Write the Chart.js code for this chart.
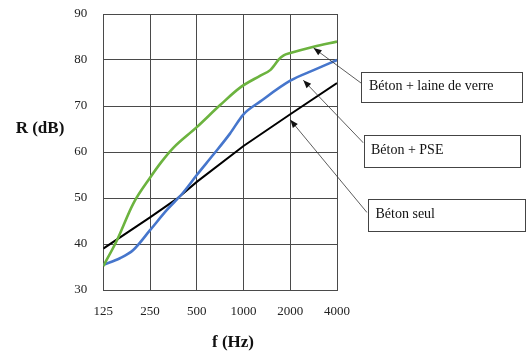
<!DOCTYPE html>
<html><head><meta charset="utf-8">
<script src="https://cdn.jsdelivr.net/npm/chart.js@4/dist/chart.umd.min.js"></script>
<style>html,body{margin:0;padding:0;background:#fff;}#wrap{width:528px;height:363px;position:relative;}</style>
</head><body><div id="wrap"><canvas id="c" width="528" height="363"></canvas></div>
<script>
// Frequencies (Hz) of the axis ticks
const tickFreqs = [125, 250, 500, 1000, 2000, 4000];
const yTicks = [30, 40, 50, 60, 70, 80, 90];

// Béton + laine de verre
const laineFreq = [125, 152, 195, 250, 297, 353, 500, 707, 950, 1284, 1485, 1559, 1682, 1815, 2000, 2828, 4000];
const laineR    = [35.2, 40.6, 48.8, 54.4, 57.9, 60.9, 65.4, 70.2, 74.0, 76.6, 77.8, 78.6, 80.1, 81.0, 81.5, 82.9, 84.0];

// Béton + PSE
const pseFreq = [125, 160, 195, 250, 321, 409, 500, 642, 818, 1000, 1284, 2000, 2828, 4000];
const pseR    = [35.5, 36.9, 38.7, 43.0, 47.4, 51.2, 55.0, 59.5, 64.0, 68.2, 71.0, 75.5, 77.8, 80.0];

// Béton seul
const seulFreq = [125, 250, 371, 500, 1000, 2000, 4000];
const seulR    = [39.0, 45.8, 49.8, 53.5, 61.3, 68.2, 75.0];

// Annotation labels and the (f, R) points their arrows point to
const noteLabels = ['Béton + laine de verre', 'Béton + PSE', 'Béton seul'];
const noteTargetF = [2828, 2427, 2000];
const noteTargetR = [82.6, 75.6, 67.0];

const pts = (xs, ys) => xs.map((x, i) => ({x: x, y: ys[i]}));

const annot = {
  id: 'annot',
  afterDraw(chart) {
    const ctx = chart.ctx;
    const xs = chart.scales.x, ys = chart.scales.y;
    const boxes = [
      {x: 361, y: 71.5, w: 161, h: 30, tx: 369, ty: 86.5, sx: 361, sy: 83},
      {x: 363.5, y: 135, w: 156, h: 31.5, tx: 371, ty: 150, sx: 363.5, sy: 143},
      {x: 367.5, y: 198.5, w: 156.5, h: 32, tx: 375.5, ty: 214.5, sx: 367, sy: 212.5}
    ];
    ctx.save();
    boxes.forEach((b, i) => {
      const tx = xs.getPixelForValue(noteTargetF[i]);
      const ty = ys.getPixelForValue(noteTargetR[i]);
      ctx.strokeStyle = '#333';
      ctx.lineWidth = 0.8;
      ctx.beginPath();
      ctx.moveTo(b.sx, b.sy);
      ctx.lineTo(tx, ty);
      ctx.stroke();
      const ang = Math.atan2(ty - b.sy, tx - b.sx);
      const L = 8, W = 3.2;
      ctx.fillStyle = '#111';
      ctx.beginPath();
      ctx.moveTo(tx, ty);
      ctx.lineTo(tx - L * Math.cos(ang) + W * Math.sin(ang), ty - L * Math.sin(ang) - W * Math.cos(ang));
      ctx.lineTo(tx - L * Math.cos(ang) - W * Math.sin(ang), ty - L * Math.sin(ang) + W * Math.cos(ang));
      ctx.closePath();
      ctx.fill();
      ctx.fillStyle = '#fff';
      ctx.fillRect(b.x, b.y, b.w, b.h);
      ctx.strokeStyle = '#444';
      ctx.lineWidth = 1;
      ctx.strokeRect(Math.round(b.x) + 0.5, Math.round(b.y) + 0.5, Math.round(b.w), Math.round(b.h));
      ctx.fillStyle = '#111';
      ctx.font = '14px "Liberation Serif", serif';
      ctx.textBaseline = 'middle';
      ctx.textAlign = 'left';
      ctx.fillText(noteLabels[i], b.tx, b.ty);
    });
    ctx.fillStyle = '#111';
    ctx.font = 'bold 17px "Liberation Serif", serif';
    ctx.textAlign = 'center';
    ctx.textBaseline = 'middle';
    ctx.fillText('R (dB)', 40, 129);
    ctx.fillText('f (Hz)', 233, 343);
    ctx.restore();
  }
};

new Chart(document.getElementById('c'), {
  type: 'line',
  data: {
    datasets: [
      {label: 'Béton + laine de verre', data: pts(laineFreq, laineR), borderColor: '#6cb33f', borderWidth: 2.6, cubicInterpolationMode: 'monotone', pointRadius: 0, fill: false},
      {label: 'Béton + PSE', data: pts(pseFreq, pseR), borderColor: '#4676cc', borderWidth: 2.6, cubicInterpolationMode: 'monotone', pointRadius: 0, fill: false},
      {label: 'Béton seul', data: pts(seulFreq, seulR), borderColor: '#000', borderWidth: 2, tension: 0, pointRadius: 0, fill: false}
    ]
  },
  options: {
    responsive: false,
    animation: false,
    devicePixelRatio: 1,
    layout: {padding: {top: 14, right: 191, left: 0, bottom: 0}},
    plugins: {legend: {display: false}, tooltip: {enabled: false}},
    scales: {
      x: {
        type: 'logarithmic', min: 125, max: 4000,
        afterBuildTicks: (s) => { s.ticks = tickFreqs.map(v => ({value: v})); },
        afterFit: (s) => { s.height = 73; s.paddingLeft = 0; s.paddingRight = 0; s.paddingTop = 0; s.paddingBottom = 0; },
        grid: {color: '#4a4a4a', lineWidth: 1, drawTicks: false},
        border: {color: '#4a4a4a', width: 1},
        ticks: {padding: 14, color: '#222', font: {family: '"Liberation Serif", serif', size: 13}, maxRotation: 0, autoSkip: false,
          callback: (v) => String(v)}
      },
      y: {
        min: 30, max: 90,
        afterBuildTicks: (s) => { s.ticks = yTicks.map(v => ({value: v})); },
        afterFit: (s) => { s.width = 103.3; s.paddingTop = 0; s.paddingBottom = 0; s.paddingLeft = 0; s.paddingRight = 0; },
        grid: {color: '#4a4a4a', lineWidth: 1, drawTicks: false},
        border: {color: '#4a4a4a', width: 1},
        ticks: {padding: 16, color: '#222', font: {family: '"Liberation Serif", serif', size: 13}}
      }
    }
  },
  plugins: [annot]
});
</script>
</body></html>
